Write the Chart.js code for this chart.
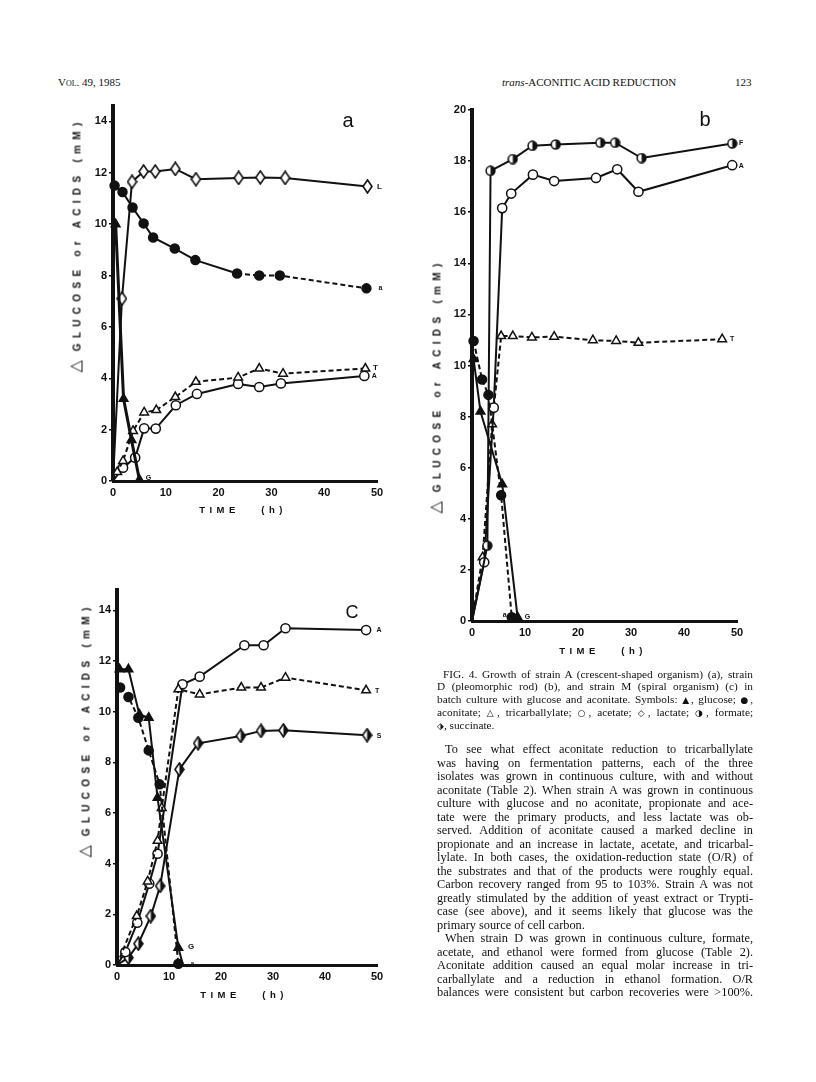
<!DOCTYPE html>
<html><head><meta charset="utf-8">
<script src="https://cdn.jsdelivr.net/npm/chart.js@4.4.1/dist/chart.umd.min.js"></script>
<style>
body{margin:0;background:#fff;width:816px;height:1082px;position:relative;overflow:hidden;font-family:"Liberation Serif","Times New Roman",serif;color:#111}
.box{position:absolute}
.ytitle{position:absolute;transform:translate(-50%,-50%) rotate(-90deg);white-space:nowrap;font:bold 10px "Liberation Sans",Arial,sans-serif;letter-spacing:5.3px;color:#111}
.ytitle .tri{font-size:16px;font-weight:normal;font-family:"DejaVu Sans",sans-serif;letter-spacing:9px}
.xtitle{position:absolute;transform:translate(-50%,-50%);white-space:nowrap;font:bold 9.5px "Liberation Sans",Arial,sans-serif;letter-spacing:4.5px;color:#111}
.plabel{position:absolute;transform:translate(-50%,-50%);font:20px "Liberation Sans",Arial,sans-serif;color:#111}
.hdr{position:absolute;font-size:11px;white-space:nowrap;top:76px}
.para{position:absolute;left:437px;width:316px}
.para div{text-align:justify;text-align-last:justify;white-space:nowrap}
.para div.last{text-align-last:left}
.cap{top:668px;font-size:11.3px;line-height:12.3px}
.body{top:743px;font-size:12.3px;line-height:13.5px}
.sym{font-family:"DejaVu Sans",sans-serif;font-size:9px}
</style></head>
<body>
<div class="hdr" style="left:58px;font-variant:small-caps">Vol. 49, 1985</div>
<div class="hdr" style="left:502px"><i>trans</i>-ACONITIC ACID REDUCTION</div>
<div class="hdr" style="left:735px">123</div>

<div class="box" style="left:40px;top:90px;width:360px;height:440px"><canvas id="chartA" width="360" height="440"></canvas></div>
<div class="box" style="left:430px;top:90px;width:340px;height:580px"><canvas id="chartB" width="340" height="580"></canvas></div>
<div class="box" style="left:40px;top:575px;width:360px;height:440px"><canvas id="chartC" width="360" height="440"></canvas></div>

<div class="ytitle" style="left:75px;top:245px"><span class="tri">△</span>GLUCOSE or ACIDS (mM)</div>
<div class="ytitle" style="left:435px;top:386px"><span class="tri">△</span>GLUCOSE or ACIDS (mM)</div>
<div class="ytitle" style="left:84px;top:730px"><span class="tri">△</span>GLUCOSE or ACIDS (mM)</div>
<div class="xtitle" style="left:243px;top:509px">TIME&nbsp;&nbsp;&nbsp;(h)</div>
<div class="xtitle" style="left:603px;top:650px">TIME&nbsp;&nbsp;&nbsp;(h)</div>
<div class="xtitle" style="left:244px;top:994px">TIME&nbsp;&nbsp;&nbsp;(h)</div>
<div class="plabel" style="left:348px;top:120px">a</div>
<div class="plabel" style="left:705px;top:119px">b</div>
<div class="plabel" style="left:352px;top:612px;font-size:18px">C</div>

<div class="para cap">
<div style="padding-left:6px">FIG. 4. Growth of strain A (crescent-shaped organism) (a), strain</div>
<div>D (pleomorphic rod) (b), and strain M (spiral organism) (c) in</div>
<div>batch culture with glucose and aconitate. Symbols: <span class="sym">▲</span>, glucose; <span class="sym">●</span>,</div>
<div>aconitate; <span class="sym">△</span>, tricarballylate; <span class="sym">○</span>, acetate; <span class="sym">◇</span>, lactate; <span class="sym">◑</span>, formate;</div>
<div class="last"><span class="sym">⬗</span>, succinate.</div>
</div>

<div class="para body">
<div style="padding-left:8px">To see what effect aconitate reduction to tricarballylate</div>
<div>was having on fermentation patterns, each of the three</div>
<div>isolates was grown in continuous culture, with and without</div>
<div>aconitate (Table 2). When strain A was grown in continuous</div>
<div>culture with glucose and no aconitate, propionate and ace-</div>
<div>tate were the primary products, and less lactate was ob-</div>
<div>served. Addition of aconitate caused a marked decline in</div>
<div>propionate and an increase in lactate, acetate, and tricarbal-</div>
<div>lylate. In both cases, the oxidation-reduction state (O/R) of</div>
<div>the substrates and that of the products were roughly equal.</div>
<div>Carbon recovery ranged from 95 to 103%. Strain A was not</div>
<div>greatly stimulated by the addition of yeast extract or Trypti-</div>
<div>case (see above), and it seems likely that glucose was the</div>
<div class="last">primary source of cell carbon.</div>
<div style="padding-left:8px">When strain D was grown in continuous culture, formate,</div>
<div>acetate, and ethanol were formed from glucose (Table 2).</div>
<div>Aconitate addition caused an equal molar increase in tri-</div>
<div>carballylate and a reduction in ethanol formation. O/R</div>
<div>balances were consistent but carbon recoveries were &gt;100%.</div>
</div>

<script>
// ---------- Tick labels ----------
const xTicks  = [0, 10, 20, 30, 40, 50];
const yTicksA = [0, 2, 4, 6, 8, 10, 12, 14];
const yTicksB = [0, 2, 4, 6, 8, 10, 12, 14, 16, 18, 20];
const yTicksC = [0, 2, 4, 6, 8, 10, 12, 14];

// ---------- Panel a: strain A ----------
const aGlucoseT   = [0.5, 2, 3.5, 5];
const aGlucose    = [10, 3.2, 1.6, 0.05];
const aAconitateT = [0.3, 1.8, 3.7, 5.8, 7.6, 11.7, 15.6, 23.5, 27.7, 31.6, 48];
const aAconitate  = [11.5, 11.25, 10.65, 10.03, 9.48, 9.05, 8.6, 8.08, 8.0, 8.0, 7.5];
const aTricarbT   = [0, 0.8, 1.9, 3.8, 5.9, 8.2, 11.8, 15.7, 23.7, 27.7, 32.2, 47.8];
const aTricarb    = [0, 0.35, 0.78, 1.95, 2.67, 2.76, 3.27, 3.86, 4.03, 4.38, 4.18, 4.38];
const aAcetateT   = [0, 1.9, 4.2, 5.9, 8.1, 11.9, 15.9, 23.7, 27.7, 31.8, 47.6];
const aAcetate    = [0, 0.52, 0.91, 2.05, 2.04, 2.95, 3.39, 3.78, 3.66, 3.8, 4.09];
const aLactateT   = [0, 1.7, 3.6, 5.8, 8, 11.8, 15.7, 23.8, 27.9, 32.6, 48.2];
const aLactate    = [0, 7.1, 11.65, 12.05, 12.05, 12.15, 11.75, 11.8, 11.82, 11.8, 11.47];

// ---------- Panel b: strain D ----------
const bGlucoseT   = [0.3, 1.6, 5.7, 8.6];
const bGlucose    = [10.25, 8.2, 5.35, 0.15];
const bAconitateT = [0.3, 1.9, 3.1, 5.5, 7.5];
const bAconitate  = [10.96, 9.45, 8.85, 4.92, 0.15];
const bFormateT   = [0, 2.9, 3.5, 7.7, 11.4, 15.8, 24.2, 27.0, 32.0, 49.1];
const bFormate    = [0, 2.95, 17.62, 18.08, 18.6, 18.65, 18.72, 18.72, 18.12, 18.69];
const bAcetateT   = [0, 2.3, 4.1, 5.7, 7.4, 11.5, 15.5, 23.4, 27.4, 31.4, 49.1];
const bAcetate    = [0, 2.3, 8.35, 16.16, 16.73, 17.47, 17.22, 17.34, 17.68, 16.8, 17.84];
const bTricarbT   = [0, 2.0, 3.8, 5.5, 7.7, 11.3, 15.5, 22.8, 27.2, 31.4, 47.2];
const bTricarb    = [0, 2.5, 7.7, 11.15, 11.15, 11.1, 11.13, 10.99, 10.96, 10.89, 11.03];

// ---------- Panel c: strain M ----------
const cGlucoseT   = [0.5, 2.2, 4.3, 6.1, 7.8, 11.8, 12.7];
const cGlucose    = [11.67, 11.67, 9.89, 9.76, 6.6, 0.68, 0];
const cAconitateT = [0.6, 2.2, 4.1, 6.1, 8.2, 11.8];
const cAconitate  = [10.95, 10.58, 9.76, 8.47, 7.13, 0.05];
const cTricarbT   = [0, 3.8, 5.9, 7.8, 8.6, 11.8, 15.9, 23.9, 27.7, 32.4, 47.9];
const cTricarb    = [0, 1.93, 3.3, 4.9, 6.2, 10.88, 10.68, 10.95, 10.95, 11.34, 10.84];
const cAcetateT   = [0, 1.6, 3.9, 6.2, 7.8, 12.6, 15.9, 24.5, 28.2, 32.4, 47.9];
const cAcetate    = [0, 0.51, 1.67, 3.21, 4.39, 11.08, 11.38, 12.62, 12.62, 13.29, 13.22];
const cSuccinateT = [0, 2.2, 4.1, 6.5, 8.3, 12.0, 15.6, 23.8, 27.7, 32.0, 48.1];
const cSuccinate  = [0, 0.29, 0.84, 1.93, 3.12, 7.72, 8.75, 9.04, 9.24, 9.26, 9.07];

// ---------- marker images ----------
const INK = '#111';
function mk(w, h, draw){ const c=document.createElement('canvas'); c.width=w; c.height=h; const g=c.getContext('2d'); draw(g,w,h); return c; }
const diamondOpen = mk(11, 15, (g,w,h)=>{ g.beginPath(); g.moveTo(w/2,1); g.lineTo(w-1,h/2); g.lineTo(w/2,h-1); g.lineTo(1,h/2); g.closePath(); g.fillStyle='#fff'; g.fill(); g.lineWidth=1.6; g.strokeStyle=INK; g.stroke(); });
const diamondHalf = mk(11, 15, (g,w,h)=>{ g.beginPath(); g.moveTo(w/2,1); g.lineTo(w-1,h/2); g.lineTo(w/2,h-1); g.lineTo(1,h/2); g.closePath(); g.fillStyle='#fff'; g.fill();
  g.beginPath(); g.moveTo(w/2,1); g.lineTo(w-1,h/2); g.lineTo(w/2,h-1); g.closePath(); g.fillStyle=INK; g.fill();
  g.beginPath(); g.moveTo(w/2,1); g.lineTo(w-1,h/2); g.lineTo(w/2,h-1); g.lineTo(1,h/2); g.closePath(); g.lineWidth=1.6; g.strokeStyle=INK; g.stroke(); });
const circleHalf = mk(11, 11, (g,w,h)=>{ g.beginPath(); g.arc(5.5,5.5,4.4,0,Math.PI*2); g.fillStyle='#fff'; g.fill();
  g.beginPath(); g.arc(5.5,5.5,4.4,-Math.PI/2,Math.PI/2); g.closePath(); g.fillStyle=INK; g.fill();
  g.beginPath(); g.arc(5.5,5.5,4.4,0,Math.PI*2); g.lineWidth=1.5; g.strokeStyle=INK; g.stroke(); });

const MARK = {
  glucose:   {pointStyle:'triangle', radius:5,   bg:INK},
  aconitate: {pointStyle:'circle',   radius:4.5, bg:INK},
  tricarb:   {pointStyle:'triangle', radius:5,   bg:'#fff'},
  acetate:   {pointStyle:'circle',   radius:4.6, bg:'#fff'},
  lactate:   {pointStyle:diamondOpen, radius:6,  bg:'#fff'},
  formate:   {pointStyle:circleHalf,  radius:5,  bg:'#fff'},
  succinate: {pointStyle:diamondHalf, radius:6,  bg:'#fff'}
};

function ds(xs, ys, kind, opts){
  const m = MARK[kind];
  const o = Object.assign({dash:null, width:2, dashFrom:null, label:null}, opts||{});
  return {
    data: xs.map((x,i)=>({x:x, y:ys[i]})),
    showLine:true,
    borderColor:INK,
    borderWidth:o.width,
    borderDash:o.dash||[],
    segment: o.dashFrom!==null ? {borderDash: c => c.p0.parsed.x >= o.dashFrom ? [5,3] : []} : undefined,
    pointStyle:m.pointStyle,
    pointRadius: c => (c.raw && c.raw.y===0) ? 0 : m.radius,
    pointHoverRadius: m.radius,
    pointBackgroundColor:m.bg,
    pointBorderColor:INK,
    pointBorderWidth:1.5,
    clip:false,
    endLabel:o.label
  };
}

const endLabels = {
  id:'endLabels',
  afterDatasetsDraw(chart){
    const ctx = chart.ctx;
    chart.data.datasets.forEach((d,i)=>{
      if(!d.endLabel) return;
      const meta = chart.getDatasetMeta(i);
      const p = meta.data[meta.data.length-1];
      ctx.save();
      ctx.font = 'bold ' + (d.endLabel.size||8) + 'px "Liberation Sans", Arial, sans-serif';
      ctx.fillStyle = INK; ctx.textAlign='center'; ctx.textBaseline='middle';
      ctx.fillText(d.endLabel.text, p.x + d.endLabel.dx, p.y + d.endLabel.dy);
      ctx.restore();
    });
  }
};

Chart.defaults.font.family = '"Liberation Sans", Arial, sans-serif';
Chart.defaults.color = INK;

function makeChart(id, datasets, yTicks, yMax, geo){
  return new Chart(document.getElementById(id), {
    type:'scatter',
    data:{datasets:datasets},
    options:{
      responsive:false, animation:false, events:[],
      layout:{autoPadding:false, padding:{top:geo.top, right:geo.right, left:0, bottom:0}},
      plugins:{legend:{display:false}, tooltip:{enabled:false}},
      scales:{
        x:{type:'linear', min:0, max:50,
           afterBuildTicks: s => { s.ticks = xTicks.map(v=>({value:v})); },
           afterFit: s => { s.height = geo.xh; },
           grid:{display:false, drawTicks:false, tickLength:0},
           border:{display:true, width:3, color:INK},
           ticks:{padding:5, autoSkip:false, maxRotation:0, font:{size:11, weight:'bold'}, color:INK}},
        y:{type:'linear', min:0, max:yMax,
           afterBuildTicks: s => { s.ticks = yTicks.map(v=>({value:v})); },
           afterFit: s => { s.width = geo.yw; },
           grid:{display:true, drawOnChartArea:false, drawTicks:true, tickLength:4, color:INK, lineWidth:1.5},
           border:{display:true, width:4, color:INK},
           ticks:{padding:2, autoSkip:false, font:{size:11, weight:'bold'}, color:INK}}
      }
    },
    plugins:[endLabels]
  });
}

makeChart('chartA', [
  ds(aGlucoseT, aGlucose, 'glucose', {width:3, label:{text:'G', dx:9, dy:-2, size:7}}),
  ds(aAconitateT, aAconitate, 'aconitate', {dashFrom:20, label:{text:'a', dx:14, dy:0, size:7}}),
  ds(aTricarbT, aTricarb, 'tricarb', {dash:[5,3], label:{text:'T', dx:10, dy:-1}}),
  ds(aAcetateT, aAcetate, 'acetate', {label:{text:'A', dx:10, dy:0, size:7}}),
  ds(aLactateT, aLactate, 'lactate', {label:{text:'L', dx:12, dy:0}})
], yTicksA, 14.6, {top:16, right:23, xh:49, yw:73});

makeChart('chartB', [
  ds(bGlucoseT, bGlucose, 'glucose', {label:{text:'G', dx:10, dy:0, size:7}}),
  ds(bAconitateT, bAconitate, 'aconitate', {dash:[5,3], label:{text:'a', dx:-7, dy:-2, size:7}}),
  ds(bFormateT, bFormate, 'formate', {label:{text:'F', dx:9, dy:0, size:7}}),
  ds(bAcetateT, bAcetate, 'acetate', {label:{text:'A', dx:9, dy:1, size:7}}),
  ds(bTricarbT, bTricarb, 'tricarb', {dash:[5,3], label:{text:'T', dx:10, dy:0, size:7}})
], yTicksB, 20, {top:20, right:33, xh:49, yw:42});

makeChart('chartC', [
  ds(cGlucoseT, cGlucose, 'glucose', {label:{text:'G', dx:8, dy:-18, size:8}}),
  ds(cAconitateT, cAconitate, 'aconitate', {dash:[5,3], label:{text:'a', dx:14, dy:0, size:6}}),
  ds(cTricarbT, cTricarb, 'tricarb', {dash:[5,3], label:{text:'T', dx:11, dy:1, size:7}}),
  ds(cAcetateT, cAcetate, 'acetate', {label:{text:'A', dx:13, dy:0, size:7}}),
  ds(cSuccinateT, cSuccinate, 'succinate', {label:{text:'S', dx:12, dy:1, size:7}})
], yTicksC, 14.8, {top:15, right:23, xh:50, yw:77});
</script>
</body></html>
